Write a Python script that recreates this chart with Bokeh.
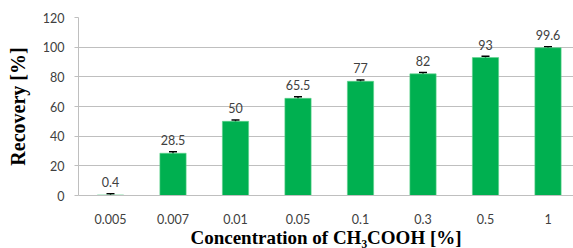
from bokeh.plotting import figure
from bokeh.models import Range1d, FixedTicker, ColumnDataSource, Whisker
from bokeh.embed import file_html
from bokeh.resources import INLINE
from bokeh.core.properties import value

categories = ["0.005", "0.007", "0.01", "0.05", "0.1", "0.3", "0.5", "1"]
recovery = [0.4, 28.5, 50, 65.5, 77, 82, 93, 99.6]
errors = [0.8, 1.0, 0.9, 1.0, 0.9, 1.0, 0.8, 0.7]
labels = ["0.4", "28.5", "50", "65.5", "77", "82", "93", "99.6"]
y_ticks = [0, 20, 40, 60, 80, 100, 120]

xs = list(range(len(categories)))
src = ColumnDataSource(dict(
    x=xs, top=recovery,
    lower=[r - e for r, e in zip(recovery, errors)],
    upper=[r + e for r, e in zip(recovery, errors)],
    lab=labels,
))

p = figure(frame_width=495, frame_height=178, output_backend="svg", toolbar_location=None,
           x_range=Range1d(-0.512, 7.408), y_range=Range1d(0, 120),
           min_border_left=78, min_border_right=0, min_border_top=17,
           min_border_bottom=50)
p.outline_line_color = None
p.background_fill_color = "white"
p.border_fill_color = "white"

p.vbar(x="x", top="top", width=0.42, bottom=0, source=src,
       fill_color="#00B050", line_color="#5fd38d", line_width=0.6)

w = Whisker(base="x", lower="lower", upper="upper", source=src,
            line_color="black", line_width=1.5)
w.upper_head.size = 8
w.lower_head.size = 8
w.upper_head.line_color = "black"
w.lower_head.line_color = "black"
w.upper_head.line_width = 1.5
w.lower_head.line_width = 1.5
p.add_layout(w)

p.text(x="x", y="top", text="lab", source=src, text_align="center",
       text_baseline="bottom", y_offset=-8, text_font=value("Lato"),
       text_font_size="12.5px", text_color="#404040")

p.xaxis.ticker = FixedTicker(ticks=xs)
p.xaxis.major_label_overrides = {i: c for i, c in zip(xs, categories)}
p.xaxis.major_tick_line_color = None
p.xaxis.minor_tick_line_color = None
p.xaxis.axis_line_color = "#bfbfbf"
p.xaxis.major_label_text_font = "Lato"
p.xaxis.major_label_text_font_size = "12.5px"
p.xaxis.major_label_text_color = "#404040"
p.xaxis.major_label_standoff = 12
p.xaxis.axis_label = "Concentration of CH\u2083COOH [%]"
p.xaxis.axis_label_text_font = "Liberation Serif"
p.xaxis.axis_label_text_font_style = "bold"
p.xaxis.axis_label_text_font_size = "19px"
p.xaxis.axis_label_text_color = "black"
p.xaxis.axis_label_standoff = 0

p.yaxis.ticker = FixedTicker(ticks=y_ticks)
p.yaxis.major_tick_line_color = "#bfbfbf"
p.yaxis.major_tick_out = 4
p.yaxis.major_tick_in = 0
p.yaxis.minor_tick_line_color = None
p.yaxis.axis_line_color = "#bfbfbf"
p.yaxis.major_label_text_font = "Lato"
p.yaxis.major_label_text_font_size = "12.5px"
p.yaxis.major_label_text_color = "#404040"
p.yaxis.major_label_standoff = 10
p.yaxis.axis_label = "Recovery [%]"
p.yaxis.axis_label_text_font = "Liberation Serif"
p.yaxis.axis_label_text_font_style = "bold"
p.yaxis.axis_label_text_font_size = "20px"
p.yaxis.axis_label_text_color = "black"
p.yaxis.axis_label_standoff = 11

p.xgrid.grid_line_color = None
p.ygrid.grid_line_color = "#bfbfbf"
p.ygrid.ticker = FixedTicker(ticks=y_ticks)

open("out.html", "w").write(file_html(p, INLINE))
